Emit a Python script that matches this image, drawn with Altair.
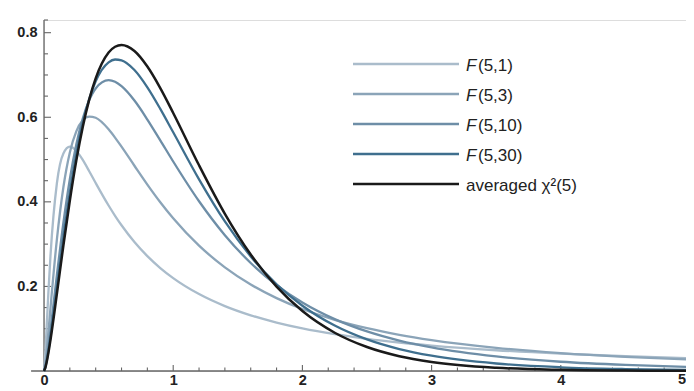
import altair as alt
import pandas as pd

# x grid and density values
X = [0, 0.01, 0.02, 0.035, 0.05, 0.1, 0.15, 0.2, 0.25, 0.3, 0.35, 0.4, 0.5, 0.55, 0.6, 0.7, 0.8,
     0.9, 1.0, 1.2, 1.4, 1.6, 1.8, 2.0, 2.25, 2.5, 2.75, 3.0, 3.5, 4.0, 4.5, 5.0]
F5_1 = [0, 0.0410, 0.1008, 0.1915, 0.2716, 0.4446, 0.5144, 0.5305, 0.5207, 0.4990, 0.4724,
        0.4446, 0.3913, 0.3670, 0.3446, 0.3050, 0.2716, 0.2435, 0.2197, 0.1819, 0.1535, 0.1317,
        0.1146, 0.1008, 0.0871, 0.0762, 0.0674, 0.0602, 0.0491, 0.0410, 0.0349, 0.0302]
F5_3 = [0, 0.0171, 0.0453, 0.0953, 0.1483, 0.3118, 0.4346, 0.5169, 0.5668, 0.5928, 0.6017,
        0.5988, 0.5716, 0.5520, 0.5305, 0.4854, 0.4409, 0.3992, 0.3612, 0.2964, 0.2451, 0.2045,
        0.1723, 0.1465, 0.1211, 0.1013, 0.0857, 0.0732, 0.0549, 0.0423, 0.0334, 0.0269]
F5_10 = [0, 0.0100, 0.0272, 0.0596, 0.0963, 0.2274, 0.3502, 0.4538, 0.5358, 0.5972, 0.6405,
         0.6682, 0.6876, 0.6838, 0.6734, 0.6395, 0.5947, 0.5454, 0.4954, 0.4014, 0.3211, 0.2554,
         0.2031, 0.1620, 0.1227, 0.0936, 0.0720, 0.0558, 0.0344, 0.0219, 0.0144, 0.0096]
F5_30 = [0, 0.0081, 0.0224, 0.0496, 0.0810, 0.1984, 0.3160, 0.4223, 0.5128, 0.5863, 0.6433,
         0.6852, 0.7300, 0.7366, 0.7346, 0.7117, 0.6708, 0.6199, 0.5645, 0.4532, 0.3536, 0.2709,
         0.2051, 0.1543, 0.1075, 0.0747, 0.0519, 0.0361, 0.0177, 0.0088, 0.0045, 0.0023]
CHI5 = [0, 0.0073, 0.0200, 0.0446, 0.0733, 0.1831, 0.2968, 0.4033, 0.4974, 0.5770, 0.6417,
        0.6918, 0.7530, 0.7667, 0.7709, 0.7566, 0.7199, 0.6690, 0.6102, 0.4865, 0.3718, 0.2756,
        0.1994, 0.1417, 0.0905, 0.0567, 0.0350, 0.0214, 0.0077, 0.0027, 0.0009, 0.0003]

NAMES = ["F(5,1)", "F(5,3)", "F(5,10)", "F(5,30)", "averaged χ²(5)"]
LEGEND_ITALIC = ["F", "F", "F", "F", ""]
LEGEND_REST = ["(5,1)", "(5,3)", "(5,10)", "(5,30)", "averaged χ²(5)"]
VALUES = [F5_1, F5_3, F5_10, F5_30, CHI5]
COLORS = ["#aabccb", "#8ba4b8", "#6e8ea7", "#3f6f8e", "#1a1a1a"]
WIDTHS = [2.3, 2.3, 2.3, 2.3, 2.5]

X_LABELS = [0, 1, 2, 3, 4]
X_LAST_LABEL = 5
Y_LABELS = [0.2, 0.4, 0.6, 0.8]
X_MINOR = [0.2, 0.4, 0.6, 0.8, 1.2, 1.4, 1.6, 1.8, 2.2, 2.4, 2.6, 2.8,
           3.2, 3.4, 3.6, 3.8, 4.2, 4.4, 4.6, 4.8]
X_MAJOR = [1, 2, 3, 4, 5]
Y_MINOR = [0.05, 0.1, 0.15, 0.25, 0.3, 0.35, 0.45, 0.5, 0.55, 0.65, 0.7, 0.75, 0.83]
Y_MAJOR = [0.2, 0.4, 0.6, 0.8]

W, H = 646, 351
XMIN, XMAX = 0.0, 5.0
YMAX = 0.83
AXIS_COLOR = "#666666"
LABEL_COLOR = "#222222"
FONT = "Liberation Sans"
TICK_FONT_SIZE = 14.5

xs = alt.Scale(domain=[XMIN, XMAX], nice=False, zero=False)
ys = alt.Scale(domain=[0, YMAX], nice=False, zero=False)

x_axis = alt.Axis(values=X_LABELS, format="d", ticks=False, domain=False, grid=False,
                  labelFont=FONT, labelFontWeight="bold", labelFontSize=TICK_FONT_SIZE,
                  labelColor=LABEL_COLOR, labelPadding=2, labelFlush=False, title=None)
y_axis = alt.Axis(values=Y_LABELS, format=".1f", ticks=False, domain=False, grid=False,
                  labelFont=FONT, labelFontWeight="bold", labelFontSize=TICK_FONT_SIZE,
                  labelColor=LABEL_COLOR, labelPadding=7, title=None)

X_ENC = dict(scale=xs, axis=x_axis)
Y_ENC = dict(scale=ys, axis=y_axis)

one = pd.DataFrame({"a": [0]})
layers = []

# axis lines (x axis extends a little left of the origin)
layers.append(alt.Chart(one).mark_rule(color=AXIS_COLOR, strokeWidth=1.3).encode(
    x=alt.X(datum=-0.1, type="quantitative", **X_ENC),
    x2=alt.X2(datum=XMAX),
    y=alt.Y(datum=0, type="quantitative", **Y_ENC)))
layers.append(alt.Chart(one).mark_rule(color=AXIS_COLOR, strokeWidth=1.3).encode(
    x=alt.X(datum=0, type="quantitative", **X_ENC),
    y=alt.Y(datum=0, type="quantitative", **Y_ENC),
    y2=alt.Y2(datum=YMAX)))

# inward ticks
px_x = (XMAX - XMIN) / W
px_y = YMAX / H
def xticks(vals, length):
    df = pd.DataFrame({"x": vals, "y0": [0.0] * len(vals), "y1": [length * px_y] * len(vals)})
    return alt.Chart(df).mark_rule(color=AXIS_COLOR, strokeWidth=1.1).encode(
        x=alt.X("x:Q", **X_ENC), y=alt.Y("y0:Q", **Y_ENC), y2="y1:Q")
def yticks(vals, length):
    df = pd.DataFrame({"y": vals, "x0": [0.0] * len(vals), "x1": [length * px_x] * len(vals)})
    return alt.Chart(df).mark_rule(color=AXIS_COLOR, strokeWidth=1.1).encode(
        y=alt.Y("y:Q", **Y_ENC), x=alt.X("x0:Q", **X_ENC), x2="x1:Q")

layers += [xticks(X_MAJOR, 6), xticks(X_MINOR, 3.5), yticks(Y_MAJOR, 7), yticks(Y_MINOR, 4)]

# last x label sits at the right edge: keep it inside the picture
layers.append(alt.Chart(one).mark_text(
    text=str(X_LAST_LABEL), font=FONT, fontWeight="bold", fontSize=TICK_FONT_SIZE,
    color=LABEL_COLOR, align="right", baseline="top", dx=-4, dy=2).encode(
    x=alt.X(datum=X_LAST_LABEL, type="quantitative", **X_ENC),
    y=alt.Y(datum=0, type="quantitative", **Y_ENC)))

# curves
for name, vals, color, sw in zip(NAMES, VALUES, COLORS, WIDTHS):
    df = pd.DataFrame({"x": X, "y": vals, "series": name})
    layers.append(alt.Chart(df).mark_line(color=color, strokeWidth=sw, interpolate="monotone").encode(
        x=alt.X("x:Q", **X_ENC), y=alt.Y("y:Q", **Y_ENC)))

# manual legend
LEG_X0, LEG_X1, LEG_TX, LEG_Y0, LEG_DY = 309, 415, 422, 44, 30
for i, (it, rest, color) in enumerate(zip(LEGEND_ITALIC, LEGEND_REST, COLORS)):
    yy = LEG_Y0 + LEG_DY * i
    layers.append(alt.Chart(one).mark_rule(color=color, strokeWidth=2.6).encode(
        x=alt.value(LEG_X0), x2=alt.value(LEG_X1), y=alt.value(yy)))
    tx = LEG_TX
    if it:
        layers.append(alt.Chart(one).mark_text(
            text=it, font=FONT, fontSize=17, fontStyle="italic", color=LABEL_COLOR,
            align="left", baseline="alphabetic").encode(x=alt.value(tx), y=alt.value(yy + 6.5)))
        tx += 12
    layers.append(alt.Chart(one).mark_text(
        text=rest, font=FONT, fontSize=17, color=LABEL_COLOR,
        align="left", baseline="alphabetic").encode(x=alt.value(tx), y=alt.value(yy + 6.5)))

# the reference cuts the plot at its right edge: let the svg end there
chart = alt.layer(*layers).properties(
    width=W, height=H,
    autosize=alt.AutoSizeParams(type="none"),
    padding={"left": 36, "top": 12, "right": -4, "bottom": 18},
).configure_view(stroke=None).configure(background="white")

chart.save("out.html", embed_options={"renderer": "svg", "actions": False})
